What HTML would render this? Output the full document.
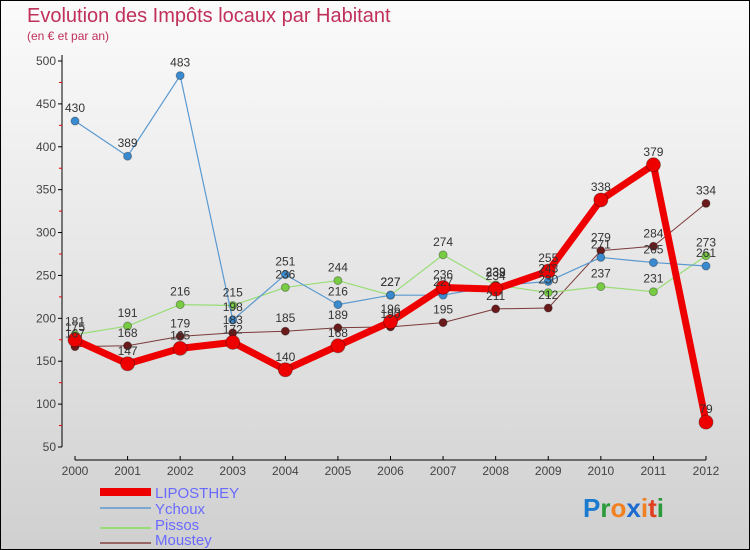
<!DOCTYPE html>
<html><head><meta charset="utf-8"><style>
body{margin:0;width:750px;height:550px;overflow:hidden;font-family:"Liberation Sans",sans-serif}
</style></head><body>
<svg width="750" height="550" style="display:block">
<defs><linearGradient id="bg" x1="0" y1="0" x2="0" y2="1"><stop offset="0" stop-color="#fbfbfb"/><stop offset="1" stop-color="#d0d0d0"/></linearGradient></defs>
<rect x="0.5" y="0.5" width="749" height="549" fill="url(#bg)" stroke="#000"/>
<text x="27" y="22" font-size="20" fill="#c0305a">Evolution des Impôts locaux par Habitant</text>
<text x="27" y="40" font-size="12" fill="#c0305a">(en € et par an)</text>
<g id="axes"></g><g id="series"></g><g id="labels"></g>
<g font-size="15" fill="#6a6aff">
<rect x="100" y="488" width="51" height="8" fill="#e00"/>
<text x="155" y="498">LIPOSTHEY</text>
<rect x="100" y="507" width="51" height="2" fill="#7aa8d0"/>
<text x="155" y="514">Ychoux</text>
<rect x="100" y="527" width="51" height="2" fill="#99dd77"/>
<text x="155" y="530">Pissos</text>
<rect x="100" y="547" width="51" height="2" fill="#996666" transform="translate(0,-5)"/>
<text x="155" y="545">Moustey</text>
</g>
<text x="583" y="517" font-size="26" font-weight="bold"><tspan fill="#1a7bd0">P</tspan><tspan fill="#2a9a3a">r</tspan><tspan fill="#f08020">o</tspan><tspan fill="#1a6ad0">x</tspan><tspan fill="#f08020">i</tspan><tspan fill="#e04020">t</tspan><tspan fill="#2a9a3a">i</tspan></text>
</svg>
<script>
const years=[2000,2001,2002,2003,2004,2005,2006,2007,2008,2009,2010,2011,2012];
const liposthey=[175,147,165,172,140,168,196,236,234,255,338,379,79];
const ychoux=[430,389,483,198,251,216,227,227,238,243,271,265,261];
const pissos=[181,191,216,215,236,244,227,274,239,230,237,231,273];
const moustey=[167,168,179,183,185,189,190,195,211,212,279,284,334];
const yTicks=[50,100,150,200,250,300,350,400,450,500];
const NS="http://www.w3.org/2000/svg";
const x=i=>75+i*(706-75)/(years.length-1);
const y=v=>447-(v-50)*(447-61)/450;
function mk(tag,attrs,parent){const e=document.createElementNS(NS,tag);for(const k in attrs)e.setAttribute(k,attrs[k]);parent.appendChild(e);return e;}
const ax=document.getElementById('axes'),sg=document.getElementById('series'),lg=document.getElementById('labels');
let l=mk('line',{x1:62,y1:55,x2:62,y2:447,stroke:'#000'},ax);


l=mk('line',{x1:75,y1:460,x2:706,y2:460,stroke:'#000'},ax);


yTicks.forEach((v,i)=>{
 mk('line',{x1:58,y1:y(v),x2:62,y2:y(v),stroke:'#000'},ax);
 if(i<yTicks.length-1)mk('line',{x1:59,y1:y(v+25),x2:62,y2:y(v+25),stroke:'#e00'},ax);
 const t=mk('text',{x:56,y:y(v)+4,'text-anchor':'end','font-size':12,fill:'#444'},ax);
 t.textContent=v;
 
 
});
years.forEach((yr,i)=>{
 mk('line',{x1:x(i),y1:456,x2:x(i),y2:460,stroke:'#000'},ax);
 const t=mk('text',{x:x(i),y:475,'text-anchor':'middle','font-size':12,fill:'#444'},ax);
 t.textContent=yr;
 
 
});
function series(name,vals,color,w,r,dot){
 const p=mk('polyline',{points:vals.map((v,i)=>x(i)+','+y(v)).join(' '),fill:'none',stroke:color,'stroke-width':w,'stroke-linejoin':'round'},sg);
 
 
 vals.forEach((v,i)=>{
  const c=mk('circle',{cx:x(i),cy:y(v),r:r,fill:dot,stroke:'rgba(0,0,0,0.3)'},sg);
  
  
  const t=mk('text',{x:x(i),y:y(v)-9,'text-anchor':'middle','font-size':12,fill:'#333'},lg);
  t.textContent=v;
  
  
 });
}
series('moustey',moustey,'#7a3a3a',1,4,'#6a1a1a');
series('pissos',pissos,'#99dd77',1.2,4,'#77cc44');
series('ychoux',ychoux,'#5a9ad0',1.2,4,'#3a8ad0');
series('liposthey',liposthey,'#ee0000',7,7,'#ee0000');
</script>
</body></html>
